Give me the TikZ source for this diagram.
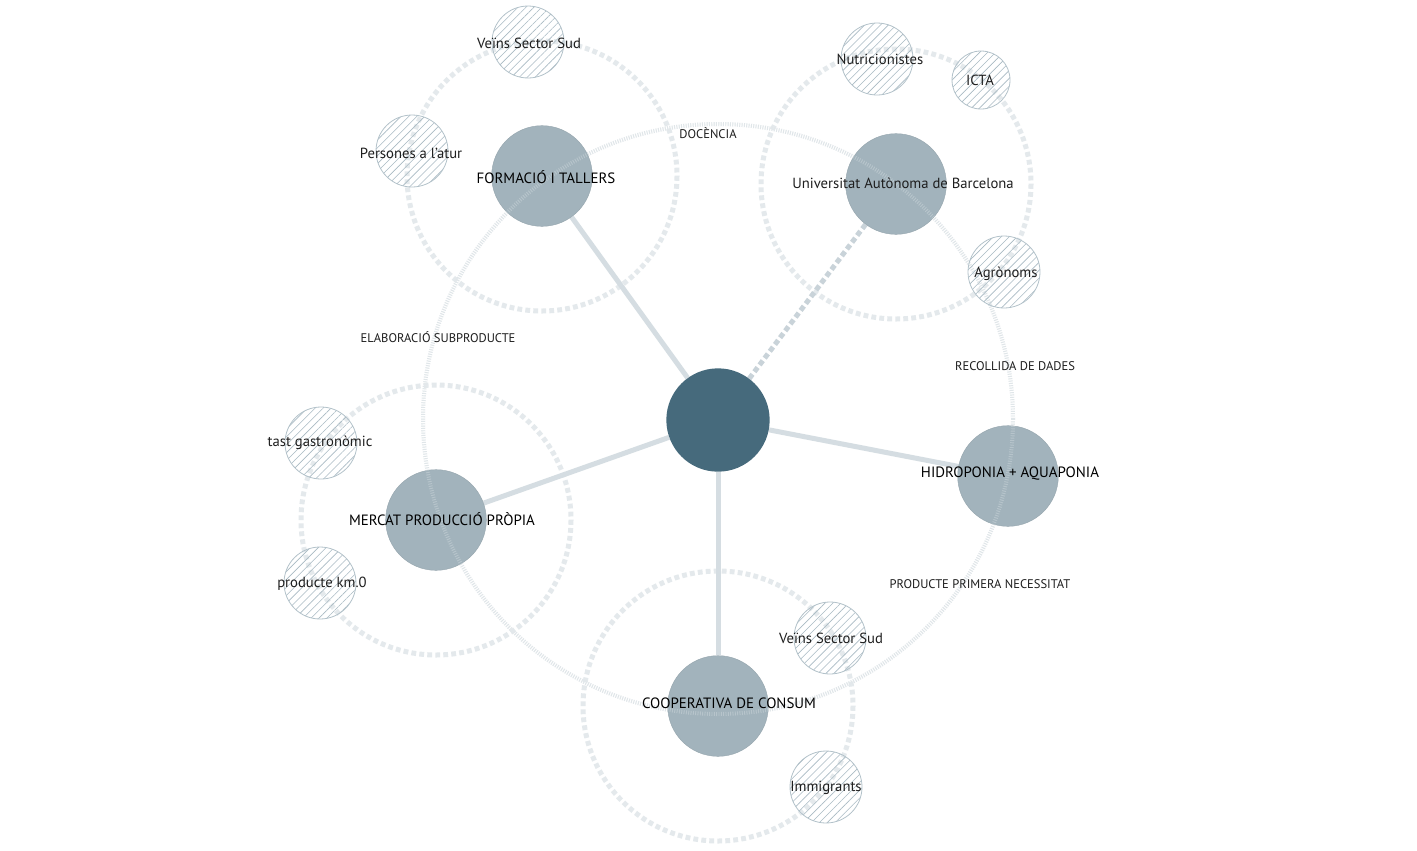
\documentclass[tikz,border=0pt]{standalone}
\usepackage{fontspec}
\setmainfont{PT Sans}
\usetikzlibrary{patterns.meta}
\pgfdeclarelayer{background}
\pgfsetlayers{background,main}
\definecolor{hub}{HTML}{466A7C}
\definecolor{mainfill}{HTML}{A2B3BC}
\definecolor{spoke}{HTML}{D5DDE2}
\definecolor{spokedash}{HTML}{C9D3D9}
\definecolor{ringc}{HTML}{E4E9EC}
\definecolor{finec}{HTML}{E0E6E9}
\definecolor{hatch}{HTML}{A9BAC3}
\definecolor{satedge}{HTML}{B3C2CA}
\definecolor{txt}{HTML}{1E1E1E}
\begin{document}
\begin{tikzpicture}[x=0.75pt,y=-0.75pt,
 hubnode/.style={circle,fill=hub,minimum size=77.5pt,inner sep=0},
 mainnode/.style={circle,fill=mainfill,draw=mainfill!92!black,line width=0.3pt,minimum size=75.5pt,inner sep=0},
 satnode/.style={circle,draw=satedge,line width=0.6pt,pattern={Lines[angle=45,distance=4.2pt,line width=0.45pt]},pattern color=hatch,minimum size=54pt,inner sep=0},
 spokeline/.style={draw=spoke,line width=3.75pt},
 spokedashed/.style={draw=spokedash,line width=3.75pt,dash pattern=on 4pt off 2.4pt},
 ringline/.style={draw=ringc,line width=3.75pt,dash pattern=on 3.6pt off 2.4pt},
 fineline/.style={draw=finec,line width=3pt,dash pattern=on 0.7pt off 1.05pt},
 lab/.style={font=\fontsize{11}{13}\selectfont,text=txt,inner sep=0},
 mainlab/.style={font=\fontsize{11.2}{13}\selectfont,text=black,inner sep=0},
 small/.style={font=\fontsize{9.4}{11}\selectfont,text=txt,inner sep=0},
]
\useasboundingbox (0,0) rectangle (1417,850);

% main nodes
\node[hubnode] (H) at (718,420) {};
\node[mainnode] (F) at (542,176) {};
\node[mainnode] (U) at (896,184) {};
\node[mainnode] (A) at (1008,476) {};
\node[mainnode] (C) at (718,706) {};
\node[mainnode] (M) at (436,520) {};

\begin{pgfonlayer}{background}
 \fill[white] (0,0) rectangle (1417,850);
 \coordinate (ringcentre) at (718,419);
 \draw[fineline] (ringcentre) circle[radius=295];
 \draw[ringline] (F.center) circle[radius=135];
 \draw[ringline] (U.center) circle[radius=135];
 \draw[ringline] (M.center) circle[radius=135];
 \draw[ringline] (C.center) circle[radius=135];
 \draw[spokeline] (H) -- (F);
 \draw[spokeline] (H) -- (M);
 \draw[spokeline] (H) -- (A);
 \draw[spokeline] (H) -- (C);
 \draw[spokedashed] (H) -- (U);
\end{pgfonlayer}

% faint ring showing through main nodes
\draw[fineline,draw opacity=0.35] (ringcentre) circle[radius=295];

% satellites
\node[satnode] (s1) at (528,42) {};
\node[satnode] (s2) at (412,151) {};
\node[satnode] (s3) at (877,59) {};
\node[satnode,minimum size=43.5pt] (s4) at (981,80) {};
\node[satnode] (s5) at (1004,272) {};
\node[satnode] (s6) at (321,443) {};
\node[satnode] (s7) at (320,583) {};
\node[satnode] (s8) at (830,638) {};
\node[satnode] (s9) at (826,787) {};

% texts
\node[mainlab] (tF) at (546,177) {FORMACIÓ I TALLERS};
\node[lab] (tU) at (903,183) {Universitat Autònoma de Barcelona};
\node[mainlab] (tA) at (1010,474) {HIDROPONIA + AQUAPONIA};
\node[mainlab] (tM) at (442,519) {MERCAT PRODUCCIÓ PRÒPIA};
\node[mainlab] (tC) at (729,703) {COOPERATIVA DE CONSUM};
\node[lab] (t1) at (529,43) {Veïns Sector Sud};
\node[lab] (t2) at (411,153) {Persones a l'atur};
\node[lab] (t3) at (880,59) {Nutricionistes};
\node[lab] (t4) at (980,80) {ICTA};
\node[lab] (t5) at (1006,274) {Agrònoms};
\node[lab] (t6) at (320,443) {tast gastronòmic};
\node[lab] (t7) at (322,584) {producte km.0};
\node[lab] (t8) at (831,638) {Veïns Sector Sud};
\node[lab] (t9) at (826,788) {Immigrants};

\node[small] (l1) at (708,133) {DOCÈNCIA};
\node[small] (l2) at (438,337) {ELABORACIÓ SUBPRODUCTE};
\node[small] (l3) at (1015,366) {RECOLLIDA DE DADES};
\node[small] (l4) at (980,584) {PRODUCTE PRIMERA NECESSITAT};
\end{tikzpicture}
\end{document}
